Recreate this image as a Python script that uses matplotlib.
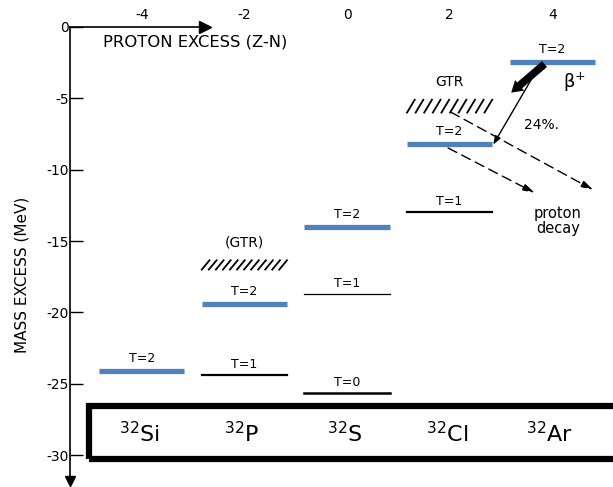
"""
Isobaric analogue / GTR level scheme for the A=32 chain (mass excess vs Z-N).
"""
import numpy as np
import matplotlib

matplotlib.use("Agg")
import matplotlib.pyplot as plt

plt.rcParams.update({
    "font.family": "DejaVu Sans",
    "font.size": 10,
    "axes.unicode_minus": False,
})

C_BLUE = "#4F81BD"

# ---------------------------------------------------------------------------
# Data
# ---------------------------------------------------------------------------
PROTON_EXCESS = [-4, -2, 0, 2, 4]
NUCLEI = ["Si", "P", "S", "Cl", "Ar"]
Y_TICKS = [0, -5, -10, -15, -20, -25, -30]

# T=2 analogue states (blue bars), MeV
T2_LEVELS = [-24.1, -19.4, -14.0, -8.2, -2.45]
# lower isospin states (black lines): (proton excess, energy, label, line width)
LOW_X = [-2, 0, 0, 2]
LOW_E = [-24.4, -18.7, -25.65, -12.95]
LOW_LABEL = ["T=1", "T=1", "T=0", "T=1"]
LOW_LW = [1.6, 0.9, 1.8, 1.6]

# Gamow-Teller resonance bands: centre x, top, bottom, number of strokes
GTR_X = [-2, 2]
GTR_TOP = [-16.35, -5.1]
GTR_BOT = [-17.0, -6.0]
GTR_N = [12, 10]
GTR_LABEL = ["(GTR)", "GTR"]

# ---------------------------------------------------------------------------
XMIN, XMAX = -6.764, 5.185
YMIN, YMAX = -32.24, 1.89
AXIS_X = -5.40
HALF = 0.83

fig = plt.figure(figsize=(6.13, 4.87), dpi=100)
ax = fig.add_axes([0, 0, 1, 1])
ax.set_xlim(XMIN, XMAX)
ax.set_ylim(YMIN, YMAX)
ax.patch.set_visible(False)

# axes: left spine as energy axis, top spine as proton-excess axis
for sp in ("right", "bottom"):
    ax.spines[sp].set_visible(False)
ax.spines["left"].set_position(("data", AXIS_X))
ax.spines["left"].set_bounds(-31.8, 0)
ax.spines["top"].set_position(("data", 0))
ax.spines["top"].set_bounds(AXIS_X, -2.85)
for sp in ("left", "top"):
    ax.spines[sp].set_linewidth(1.2)
ax.plot([-2.77], [0], marker=">", ms=8, color="black", clip_on=False)
ax.plot([AXIS_X], [-31.85], marker="v", ms=7, color="black", clip_on=False)

ax.set_yticks(Y_TICKS)
ax.set_yticklabels([str(v) for v in Y_TICKS])
ax.tick_params(axis="y", direction="in", length=9, width=1, pad=1,
               labelsize=10)
ax.xaxis.tick_top()
ax.set_xticks(PROTON_EXCESS)
ax.set_xticklabels([str(v) for v in PROTON_EXCESS])
ax.tick_params(axis="x", length=0, pad=3.5, labelsize=10)

ax.text(-4.75, -1.05, "PROTON EXCESS (Z-N)", fontsize=11.8, va="center")
ax.text(-6.33, -17.4, "MASS EXCESS (MeV)", rotation=90, fontsize=11,
        ha="center", va="center")

# levels
for x, e in zip(PROTON_EXCESS, T2_LEVELS):
    ax.plot([x - HALF, x + HALF], [e, e], color=C_BLUE, lw=3.8,
            solid_capstyle="butt")
    ax.annotate("T=2", (x, e), xytext=(0, 4), textcoords="offset points",
                ha="center", va="bottom", fontsize=9)
for x, e, lab, lw in zip(LOW_X, LOW_E, LOW_LABEL, LOW_LW):
    ax.plot([x - HALF, x + HALF], [e, e], color="black", lw=lw)
    ax.annotate(lab, (x, e), xytext=(0, 3), textcoords="offset points",
                ha="center", va="bottom", fontsize=9)

# GTR hatched bands
for x, top, bot, n, lab in zip(GTR_X, GTR_TOP, GTR_BOT, GTR_N, GTR_LABEL):
    slant = 0.15
    for xt in np.linspace(x - HALF + slant, x + HALF, n):
        ax.plot([xt - slant, xt], [bot, top], color="black", lw=1.3)
    ax.text(x, top + 0.75, lab, ha="center", va="bottom", fontsize=10)

# beta+ decay of 32Ar
ar_e = T2_LEVELS[-1]
ax.annotate("", xy=(3.20, -4.6), xytext=(3.85, ar_e - 0.15),
            arrowprops=dict(arrowstyle="simple,head_length=0.8,head_width=1.0,"
                            "tail_width=0.55", color="black", lw=0,
                            shrinkA=0, shrinkB=0))
ax.annotate("", xy=(2.85, T2_LEVELS[3] - 0.05), xytext=(3.76, ar_e - 0.2),
            arrowprops=dict(arrowstyle="-|>,head_length=0.5,head_width=0.18",
                            color="black", lw=1.0, shrinkA=0, shrinkB=0))
ax.text(4.44, -3.85, r"β$^{+}$", fontsize=13, ha="center", va="center")
ax.text(3.80, -6.87, "24%.", fontsize=10, ha="center", va="center")

# proton decay (dashed)
for (x0, y0), (x1, y1) in [((2.02, -5.96), (4.80, -11.42)),
                           ((1.97, -8.48), (3.66, -11.63))]:
    ax.annotate("", xy=(x1, y1), xytext=(x0, y0),
                arrowprops=dict(arrowstyle="-|>,head_length=0.7,head_width=0.2",
                                color="black", lw=1.0, ls=(0, (7, 4)),
                                shrinkA=0, shrinkB=0))
ax.text(4.11, -13.6, "proton\ndecay", fontsize=10.5, ha="center", va="center",
        linespacing=1.0)

# nucleus names in the box
ax.add_patch(plt.Rectangle((-5.03, -30.27), 15.0, 3.71, fill=False,
                           edgecolor="black", lw=4.5))
for x, name in zip(PROTON_EXCESS, NUCLEI):
    ax.text(x - 0.05, -28.5, rf"$^{{32}}$" + name, fontsize=16,
            ha="center", va="center")

fig.savefig("out.png", dpi=100)
